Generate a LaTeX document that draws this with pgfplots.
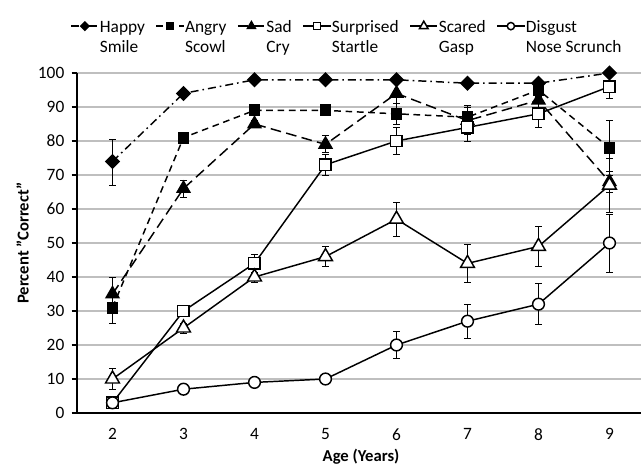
\documentclass[border=0pt]{standalone}
\usepackage{fontspec}
\setmainfont{Carlito}
\usepackage{pgfplots}
\pgfplotsset{compat=1.18}
\definecolor{gridgray}{RGB}{191,191,191}

\begin{document}
\begin{tikzpicture}
\begin{axis}[
    name=ax,
    at={(0,0)}, anchor=south west,
    scale only axis,
    width=426pt, height=255pt,
    xmin=1.5, xmax=9.5, ymin=0, ymax=100,
    axis x line*=bottom, axis y line*=left,
    axis line style={black, line width=1.1pt},
    xtick={2,...,9},
    major x tick style={draw=none},
    extra x ticks={2.5,3.5,...,8.5},
    extra x tick labels={},
    extra x tick style={major tick length=4pt, tick style={black, line width=0.9pt}},
    ytick={0,10,...,100},
    ymajorgrids=true,
    grid style={gridgray, line width=0.8pt},
    tick align=outside,
    major tick length=4pt,
    tick style={black, line width=0.9pt},
    /pgf/number format/assume math mode=true,
    tick label style={font=\fontsize{13}{15}\selectfont},
    xticklabel style={yshift=-4pt},
    yticklabel style={xshift=-2pt},
    xlabel={\textbf{Age (Years)}},
    ylabel={\textbf{Percent "Correct"}},
    label style={font=\fontsize{12.5}{15}\selectfont},
    xlabel style={yshift=8pt},
    legend columns=6,
    legend cell align=left,
    legend image code/.code={
        \draw[mark repeat=2, mark phase=2] plot coordinates {(0cm,0cm) (0.36cm,0cm) (0.72cm,0cm)};
    },
    legend image post style={/tikz/every mark/.append style={scale=0.62}},
    legend style={
        at={(-0.012,1.17)}, anchor=north west,
        draw=none, fill=none, inner sep=0pt,
        nodes={inner xsep=0.5pt},
        font=\fontsize{13}{15}\selectfont,
        /tikz/every even column/.append style={column sep=7.5pt},
        /tikz/every odd column/.append style={column sep=0pt},
    },
    clip=false,
]

% Happy Smile
\addplot[black, line width=1.1pt, dash pattern=on 6pt off 3pt on 1.2pt off 3pt,
    mark=square*, mark size=3.5pt, mark options={solid, rotate=45},
    error bars/.cd, y dir=both, y explicit,
    error bar style={solid, line width=0.6pt}, error mark options={rotate=90, mark size=2.5pt, line width=0.6pt}]
coordinates {
    (2,74) += (0,6.5) -= (0,7)
    (3,94) +- (0,0.8)
    (4,98) +- (0,0.5)
    (5,98) +- (0,0.5)
    (6,98) +- (0,0.5)
    (7,97) +- (0,0.8)
    (8,97) +- (0,0.8)
    (9,100) +- (0,0)
};
\addlegendentry{\begin{tabular}[t]{@{}l@{}}Happy\\Smile\end{tabular}}

% Angry Scowl
\addplot[black, line width=1.1pt, dash pattern=on 5pt off 3.5pt,
    mark=square*, mark size=3.9pt, mark options={solid},
    error bars/.cd, y dir=both, y explicit,
    error bar style={solid, line width=0.6pt}, error mark options={rotate=90, mark size=2.5pt, line width=0.6pt}]
coordinates {
    (2,31) +- (0,4.5)
    (3,81) +- (0,1.5)
    (4,89) +- (0,1)
    (5,89) +- (0,1)
    (6,88) +- (0,3)
    (7,87) +- (0,3.5)
    (8,95) +- (0,2)
    (9,78) +- (0,8)
};
\addlegendentry{\begin{tabular}[t]{@{}l@{}}Angry\\Scowl\end{tabular}}

% Sad Cry
\addplot[black, line width=1.1pt, dash pattern=on 8pt off 4pt,
    mark=triangle*, mark size=5.5pt, mark options={solid},
    error bars/.cd, y dir=both, y explicit,
    error bar style={solid, line width=0.6pt}, error mark options={rotate=90, mark size=2.5pt, line width=0.6pt}]
coordinates {
    (2,35) +- (0,5)
    (3,66) +- (0,2.5)
    (4,85) +- (0,1)
    (5,79) +- (0,2.5)
    (6,94) +- (0,3)
    (7,86) +- (0,4)
    (8,92) +- (0,3)
    (9,68) +- (0,3)
};
\addlegendentry{\begin{tabular}[t]{@{}l@{}}Sad\\Cry\end{tabular}}

% Surprised Startle
\addplot[black, line width=1.1pt,
    mark=square*, mark size=4.3pt, mark options={fill=white, line width=1.1pt},
    error bars/.cd, y dir=both, y explicit,
    error bar style={solid, line width=0.6pt}, error mark options={rotate=90, mark size=2.5pt, line width=0.6pt}]
coordinates {
    (2,3) +- (0,1)
    (3,30) +- (0,1.5)
    (4,44) +- (0,2.5)
    (5,73) +- (0,3)
    (6,80) +- (0,4)
    (7,84) +- (0,4)
    (8,88) +- (0,4)
    (9,96) +- (0,3.5)
};
\addlegendentry{\begin{tabular}[t]{@{}l@{}}Surprised\\Startle\end{tabular}}

% Scared Gasp
\addplot[black, line width=1.1pt,
    mark=triangle*, mark size=6pt, mark options={fill=white, line width=1.1pt},
    error bars/.cd, y dir=both, y explicit,
    error bar style={solid, line width=0.6pt}, error mark options={rotate=90, mark size=2.5pt, line width=0.6pt}]
coordinates {
    (2,10) +- (0,3)
    (3,25) +- (0,1.5)
    (4,40) +- (0,1.5)
    (5,46) +- (0,3)
    (6,57) +- (0,5)
    (7,44) +- (0,5.5)
    (8,49) +- (0,6)
    (9,67) +- (0,8)
};
\addlegendentry{\begin{tabular}[t]{@{}l@{}}Scared\\Gasp\end{tabular}}

% Disgust Nose Scrunch
\addplot[black, line width=1.1pt,
    mark=*, mark size=4.4pt, mark options={fill=white, line width=1.1pt},
    error bars/.cd, y dir=both, y explicit,
    error bar style={solid, line width=0.6pt}, error mark options={rotate=90, mark size=2.5pt, line width=0.6pt}]
coordinates {
    (2,3) +- (0,0.5)
    (3,7) +- (0,0.5)
    (4,9) +- (0,0.5)
    (5,10) +- (0,0.5)
    (6,20) +- (0,4)
    (7,27) +- (0,5)
    (8,32) +- (0,6)
    (9,50) +- (0,8.5)
};
\addlegendentry{\begin{tabular}[t]{@{}l@{}}Disgust\\Nose Scrunch\end{tabular}}

\end{axis}
\pgfresetboundingbox
\path[use as bounding box] (ax.south west) ++(-57.75pt,-40.5pt) rectangle ++(480.75pt,350.25pt);
\end{tikzpicture}
\end{document}
